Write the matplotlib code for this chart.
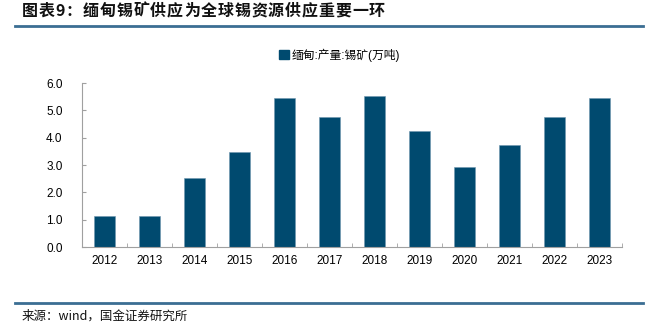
import matplotlib
matplotlib.use('Agg')
import matplotlib.pyplot as plt
from matplotlib.lines import Line2D
from matplotlib.patches import Patch

plt.rcParams['font.family'] = ['Liberation Sans', 'Noto Sans CJK SC', 'DejaVu Sans']

years = ['2012', '2013', '2014', '2015', '2016', '2017',
         '2018', '2019', '2020', '2021', '2022', '2023']
output = [1.12, 1.12, 2.54, 3.48, 5.46, 4.76, 5.52, 4.26, 2.94, 3.75, 4.76, 5.46]
series_name = '缅甸:产量:锡矿(万吨)'
title = '图表9：缅甸锡矿供应为全球锡资源供应重要一环'
source = '来源：wind，国金证券研究所'

bar_color = '#004a6f'
rule_color = '#3b6e93'
axis_color = '#a0a0a0'

W, H = 653, 323
fig = plt.figure(figsize=(W / 100, H / 100), dpi=100)
ax = fig.add_axes([0.1256, 0.235, 0.827, 0.508])

x = list(range(len(years)))
ax.bar(x, output, width=0.47, color=bar_color, edgecolor='#6f97b0', linewidth=0.4)

ax.set_xlim(-0.5, len(years) - 0.5)
ax.set_ylim(0, 6)
ax.set_yticks([0, 1, 2, 3, 4, 5, 6])
ax.set_yticklabels(['%.1f' % v for v in range(7)])
ax.set_xticks(x)
ax.set_xticklabels(years)
# tick marks sit between the bars
ax.set_xticks([i + 0.5 for i in range(-1, len(years))], minor=True)
ax.tick_params(axis='x', which='major', length=0, pad=6, labelsize=8.5)
ax.tick_params(axis='x', which='minor', direction='in', length=3, color=axis_color)
ax.tick_params(axis='y', direction='in', length=3, color=axis_color, pad=14, labelsize=8.5)

for side in ['top', 'right']:
    ax.spines[side].set_visible(False)
for side in ['left', 'bottom']:
    ax.spines[side].set_color(axis_color)
    ax.spines[side].set_linewidth(0.8)

handle = Patch(facecolor=bar_color, edgecolor=bar_color)
fig.legend([handle], [series_name], loc='center', bbox_to_anchor=(0.52, 0.83),
           frameon=False, handlelength=0.8, handleheight=0.8, handletextpad=0.2,
           prop={'family': ['Liberation Sans', 'Noto Sans CJK SC'], 'size': 8.5})

# title is set character by character so it can be tracked out
renderer = fig.canvas.get_renderer()
title_font = dict(fontsize=11.5, fontweight='bold', va='center', ha='left',
                  family=['Noto Sans CJK SC', 'DejaVu Sans'], color='#111111')
left, right = 22, 385
chars = []
for ch in title:
    t = fig.text(0, 0, ch, **title_font)
    chars.append((t, t.get_window_extent(renderer).width))
gap = (right - left - sum(w for _, w in chars)) / (len(chars) - 1)
pos = left
for t, w in chars:
    t.set_position((pos / W, 1 - 11 / H))
    pos += w + gap

fig.add_artist(Line2D([15 / W, 643 / W], [1 - 25.5 / H, 1 - 25.5 / H],
                      color=rule_color, linewidth=2))
fig.add_artist(Line2D([15 / W, 643 / W], [1 - 303 / H, 1 - 303 / H],
                      color=rule_color, linewidth=2))
fig.text(22 / W, 1 - 316 / H, source, fontsize=9, va='center', ha='left',
         family=['Noto Sans CJK SC', 'DejaVu Sans'], color='#111111')

fig.savefig('out.png', dpi=100)
